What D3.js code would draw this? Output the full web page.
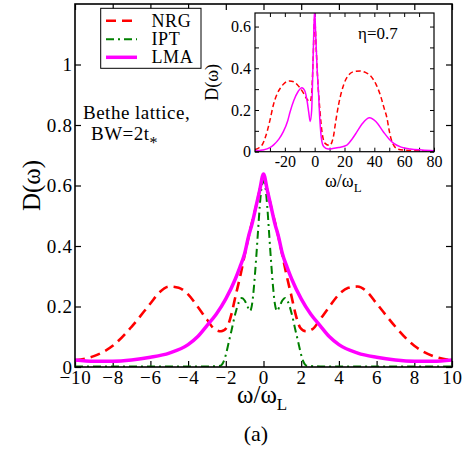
<!DOCTYPE html>
<html>
<head>
<meta charset="utf-8">
<script src="https://cdn.jsdelivr.net/npm/d3@7"></script>
<style>
  html, body { margin: 0; padding: 0; background: #fff; }
  svg { display: block; }
  text { font-family: "Liberation Serif", "Times New Roman", serif; fill: #000; }
</style>
</head>
<body>
<svg id="chart" width="474" height="453"></svg>
<script>
// ---------------- DATA ----------------
const seriesNames = ["NRG", "IPT", "LMA"];
const seriesColors = ["#ff0000", "#008000", "#ff00ff"];

// Main panel
const nrgOmega = [-10, -9, -8, -7, -6, -5.5, -5, -4.5, -4, -3.5, -3, -2.6, -2.25, -1.95, -1.7, -1.5, -1.2, -1, -0.7, -0.4, -0.2, 0,
                  0.2, 0.4, 0.7, 1, 1.2, 1.5, 1.7, 1.95, 2.25, 2.6, 3, 3.5, 4, 4.5, 5, 5.5, 6, 7, 8, 9, 10];
const nrgD = [0.022, 0.036, 0.07, 0.133, 0.21, 0.248, 0.266, 0.262, 0.24, 0.2, 0.157, 0.125, 0.118, 0.13, 0.175, 0.23, 0.31, 0.37, 0.455, 0.53, 0.585, 0.632,
              0.585, 0.53, 0.455, 0.37, 0.31, 0.23, 0.175, 0.13, 0.118, 0.125, 0.157, 0.2, 0.24, 0.262, 0.266, 0.248, 0.21, 0.133, 0.07, 0.036, 0.022];

const iptOmega = [-10, -6, -3, -2.3, -2.1, -2, -1.85, -1.7, -1.5, -1.3, -1.15, -1, -0.85, -0.72, -0.6, -0.5, -0.4, -0.3, -0.2, -0.1, 0,
                  0.1, 0.2, 0.3, 0.4, 0.5, 0.6, 0.72, 0.85, 1, 1.15, 1.3, 1.5, 1.7, 1.85, 2, 2.1, 2.3, 3, 6, 10];
const iptD = [0.002, 0.002, 0.002, 0.004, 0.02, 0.04, 0.08, 0.12, 0.175, 0.215, 0.228, 0.22, 0.2, 0.185, 0.21, 0.27, 0.35, 0.44, 0.53, 0.595, 0.615,
              0.595, 0.53, 0.44, 0.35, 0.27, 0.21, 0.185, 0.2, 0.22, 0.228, 0.215, 0.175, 0.12, 0.08, 0.04, 0.02, 0.004, 0.002, 0.002, 0.002];

const lmaOmega = [-10, -9, -8, -7, -6, -5, -4, -3.5, -3, -2.5, -2, -1.5, -1.25, -1, -0.8, -0.6, -0.4, -0.2, 0,
                  0.2, 0.4, 0.6, 0.8, 1, 1.25, 1.5, 2, 2.5, 3, 3.5, 4, 5, 6, 7, 8, 9, 10];
const lmaD = [0.023, 0.019, 0.019, 0.023, 0.032, 0.046, 0.074, 0.1, 0.137, 0.175, 0.225, 0.29, 0.33, 0.375, 0.43, 0.475, 0.53, 0.585, 0.638,
              0.585, 0.53, 0.475, 0.43, 0.375, 0.33, 0.29, 0.225, 0.175, 0.137, 0.1, 0.074, 0.046, 0.032, 0.023, 0.019, 0.019, 0.023];

// Inset (eta = 0.7)
const insetNrgOmega = [-40, -37, -35, -33, -30, -27.7, -25, -23, -20, -17, -14, -11.5, -9.7, -7, -5, -3, -2, -1, 0, 1, 2, 3.5, 5, 7, 10,
                       12.5, 14, 16, 19.4, 22, 24, 27, 30.6, 34, 37.3, 41, 44, 46.5, 48.5, 50, 51.5, 53.5, 56, 60, 70, 80];
const insetNrgD = [0.01, 0.02, 0.035, 0.07, 0.15, 0.224, 0.28, 0.305, 0.33, 0.339, 0.335, 0.32, 0.305, 0.275, 0.25, 0.24, 0.28, 0.45, 0.64, 0.5, 0.35, 0.2, 0.09, 0.04, 0.03,
                   0.07, 0.14, 0.224, 0.32, 0.36, 0.376, 0.385, 0.387, 0.38, 0.365, 0.325, 0.272, 0.21, 0.16, 0.1, 0.055, 0.025, 0.012, 0.008, 0.005, 0.004];

const insetLmaOmega = [-40, -35, -30, -27.5, -24, -21, -18, -16.5, -14, -11, -8.6, -6.5, -5, -4, -3, -2, -1.2, -0.5, 0, 0.6, 1.5, 2.6, 3.5, 4.8, 6, 9,
                       12, 16, 21.6, 25, 28.4, 32, 36.8, 41, 46, 50, 53, 58, 64, 72, 80];
const insetLmaD = [0.004, 0.008, 0.02, 0.033, 0.06, 0.096, 0.15, 0.19, 0.245, 0.29, 0.307, 0.29, 0.24, 0.19, 0.145, 0.2, 0.4, 0.6, 0.68, 0.58, 0.42, 0.28, 0.15, 0.05, 0.025, 0.013,
                   0.015, 0.02, 0.032, 0.06, 0.096, 0.135, 0.163, 0.145, 0.096, 0.06, 0.04, 0.022, 0.013, 0.008, 0.005];

const mainXTicks = [-10, -8, -6, -4, -2, 0, 2, 4, 6, 8, 10];
const mainYTicks = [0, 0.2, 0.4, 0.6, 0.8, 1];
const insetXTicks = [-30, -20, -10, 0, 10, 20, 30, 40, 50, 60, 70];
const insetXLabels = [-20, 0, 20, 40, 60, 80];
const insetYTicks = [0, 0.1, 0.2, 0.3, 0.4, 0.5, 0.6];
const insetYLabels = [0, 0.2, 0.4, 0.6];

// ---------------- LAYOUT ----------------
const svg = d3.select("#chart");
const M = { left: 75, right: 452, top: 4, bottom: 367 };
const x = d3.scaleLinear().domain([-10, 10]).range([M.left, M.right]);
const y = d3.scaleLinear().domain([0, 1.2]).range([M.bottom, M.top]);

const I = { left: 255, right: 434, top: 13, bottom: 151.7 };
const xi = d3.scaleLinear().domain([-40, 80]).range([I.left, I.right]);
const yi = d3.scaleLinear().domain([0, 0.665]).range([I.bottom, I.top]);

const fmt = d => (d === 0 ? "0" : d === 1 ? "1" : d3.format("")(d));
const serif = '"Liberation Serif", "Times New Roman", serif';

const defs = svg.append("defs");
defs.append("clipPath").attr("id", "clipMain").append("rect")
  .attr("x", M.left).attr("y", M.top).attr("width", M.right - M.left).attr("height", M.bottom - M.top);
defs.append("clipPath").attr("id", "clipInset").append("rect")
  .attr("x", I.left).attr("y", I.top).attr("width", I.right - I.left).attr("height", I.bottom - I.top);

// ---------------- MAIN AXES ----------------
const tickLen = 6;
const gxB = svg.append("g").attr("transform", `translate(0,${M.bottom})`)
  .call(d3.axisBottom(x).tickValues(mainXTicks).tickSizeInner(-tickLen).tickSizeOuter(0).tickPadding(4).tickFormat(fmt));
const gxT = svg.append("g").attr("transform", `translate(0,${M.top})`)
  .call(d3.axisTop(x).tickValues(mainXTicks).tickSizeInner(-tickLen).tickSizeOuter(0).tickFormat(""));
const gyL = svg.append("g").attr("transform", `translate(${M.left},0)`)
  .call(d3.axisLeft(y).tickValues(mainYTicks).tickSizeInner(-tickLen).tickSizeOuter(0).tickPadding(3).tickFormat(fmt));
const gyR = svg.append("g").attr("transform", `translate(${M.right},0)`)
  .call(d3.axisRight(y).tickValues(mainYTicks).tickSizeInner(-tickLen).tickSizeOuter(0).tickFormat(""));
[gxB, gxT, gyL, gyR].forEach(g => {
  g.select(".domain").remove();
  g.selectAll("line").attr("stroke", "#000").attr("stroke-width", 1.2);
  g.selectAll("text").style("font-family", serif).style("font-size", "19px").style("letter-spacing", "0.8px").attr("fill", "#000");
});
gyL.selectAll("text").attr("dx", "0.8px");

// ---------------- MAIN CURVES ----------------
const lineMain = d3.line().x(d => x(d[0])).y(d => y(d[1])).curve(d3.curveMonotoneX);
const zip = (a, b) => a.map((v, i) => [v, b[i]]);
const gMain = svg.append("g").attr("clip-path", "url(#clipMain)");

gMain.append("path").datum(zip(nrgOmega, nrgD)).attr("d", lineMain)
  .attr("fill", "none").attr("stroke", seriesColors[0]).attr("stroke-width", 2.6).attr("stroke-dasharray", "10,6");
gMain.append("path").datum(zip(iptOmega, iptD)).attr("d", lineMain)
  .attr("fill", "none").attr("stroke", seriesColors[1]).attr("stroke-width", 2).attr("stroke-dasharray", "8,4,2,4");
gMain.append("path").datum(zip(lmaOmega, lmaD)).attr("d", lineMain)
  .attr("fill", "none").attr("stroke", seriesColors[2]).attr("stroke-width", 3.5);

svg.append("rect").attr("x", M.left).attr("y", M.top).attr("width", M.right - M.left).attr("height", M.bottom - M.top)
  .attr("fill", "none").attr("stroke", "#000").attr("stroke-width", 1.6);

// main axis labels
svg.append("text").attr("transform", `translate(40,${(M.top + M.bottom) / 2}) rotate(-90)`)
  .attr("text-anchor", "middle").style("font-size", "25px").text("D(ω)");

const xLab = svg.append("text").attr("x", 237).attr("y", 403).style("font-size", "25px");
xLab.append("tspan").text("ω/ω");
xLab.append("tspan").attr("dy", 7).style("font-size", "17px").text("L");

svg.append("text").attr("x", 256).attr("y", 441).attr("text-anchor", "middle").style("font-size", "22px").text("(a)");

// annotation
svg.append("text").attr("x", 83).attr("y", 119).style("font-size", "19px").style("letter-spacing", "0.5px").text("Bethe lattice,");
const bw = svg.append("text").attr("x", 91).attr("y", 139.5).style("font-size", "19px").style("letter-spacing", "0.5px");
bw.append("tspan").text("BW=2t");
bw.append("tspan").attr("dy", 8).style("font-size", "16px").text("*");

// legend
const leg = svg.append("g");
leg.append("rect").attr("x", 100.7).attr("y", 8.3).attr("width", 100.3).attr("height", 60)
  .attr("fill", "#fff").attr("stroke", "#000").attr("stroke-width", 1);
const legY = [20.7, 39.3, 57.3];
const legDash = ["10,6", "8,4,2,4", null];
const legW = [2.6, 2, 3.5];
seriesNames.forEach((n, i) => {
  leg.append("line").attr("x1", 106).attr("x2", 137).attr("y1", legY[i]).attr("y2", legY[i])
    .attr("stroke", seriesColors[i]).attr("stroke-width", legW[i]).attr("stroke-dasharray", legDash[i]);
  leg.append("text").attr("x", 151.5).attr("y", legY[i] + 6).style("font-size", "18px").style("letter-spacing", "0.6px").text(n);
});

// ---------------- INSET ----------------
svg.append("rect").attr("x", I.left).attr("y", I.top).attr("width", I.right - I.left).attr("height", I.bottom - I.top)
  .attr("fill", "#fff");

const itl = 4;
const iFmtX = d => (insetXLabels.includes(d) ? String(d) : "");
const iFmtY = d => (insetYLabels.some(v => Math.abs(v - d) < 1e-9) ? (d === 0 ? "0" : d3.format(".1f")(d)) : "");
const ixB = svg.append("g").attr("transform", `translate(0,${I.bottom})`)
  .call(d3.axisBottom(xi).tickValues(insetXTicks.concat([80])).tickSizeInner(-itl).tickSizeOuter(0).tickPadding(4).tickFormat(iFmtX));
const ixT = svg.append("g").attr("transform", `translate(0,${I.top})`)
  .call(d3.axisTop(xi).tickValues(insetXTicks).tickSizeInner(-itl).tickSizeOuter(0).tickFormat(""));
const iyL = svg.append("g").attr("transform", `translate(${I.left},0)`)
  .call(d3.axisLeft(yi).tickValues(insetYTicks).tickSizeInner(-itl).tickSizeOuter(0).tickPadding(4).tickFormat(iFmtY));
const iyR = svg.append("g").attr("transform", `translate(${I.right},0)`)
  .call(d3.axisRight(yi).tickValues(insetYTicks).tickSizeInner(-itl).tickSizeOuter(0).tickFormat(""));
[ixB, ixT, iyL, iyR].forEach(g => {
  g.select(".domain").remove();
  g.selectAll("line").attr("stroke", "#000").attr("stroke-width", 1);
  g.selectAll("text").style("font-family", serif).style("font-size", "16px").attr("fill", "#000");
});

const lineInset = d3.line().x(d => xi(d[0])).y(d => yi(d[1])).curve(d3.curveMonotoneX);
const gIn = svg.append("g").attr("clip-path", "url(#clipInset)");
gIn.append("path").datum(zip(insetNrgOmega, insetNrgD)).attr("d", lineInset)
  .attr("fill", "none").attr("stroke", seriesColors[0]).attr("stroke-width", 1.5).attr("stroke-dasharray", "5,3");
gIn.append("path").datum(zip(insetLmaOmega, insetLmaD)).attr("d", lineInset)
  .attr("fill", "none").attr("stroke", seriesColors[2]).attr("stroke-width", 1.5);

svg.append("rect").attr("x", I.left).attr("y", I.top).attr("width", I.right - I.left).attr("height", I.bottom - I.top)
  .attr("fill", "none").attr("stroke", "#000").attr("stroke-width", 1.2);

svg.append("text").attr("transform", `translate(218,${(I.top + I.bottom) / 2}) rotate(-90)`)
  .attr("text-anchor", "middle").style("font-size", "18px").text("D(ω)");
const ixLab = svg.append("text").attr("x", 325).attr("y", 187).style("font-size", "18px");
ixLab.append("tspan").text("ω/ω");
ixLab.append("tspan").attr("dy", 5).style("font-size", "13px").text("L");

svg.append("text").attr("x", 358).attr("y", 38.5).style("font-size", "17px").text("η=0.7");
</script>
</body>
</html>
